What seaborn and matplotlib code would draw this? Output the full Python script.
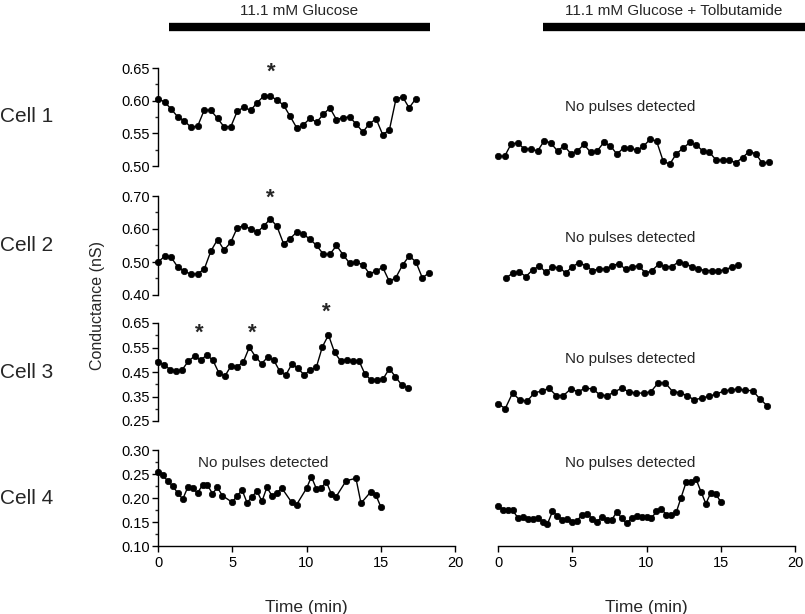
import numpy as np
import pandas as pd
import matplotlib
matplotlib.use("Agg")
import matplotlib.pyplot as plt
from matplotlib.ticker import MultipleLocator, FormatStrFormatter
import seaborn as sns

sns.set_style("ticks")
plt.rcParams["font.family"] = ["Liberation Sans", "DejaVu Sans"]

# ---------------- data ----------------
t_c1_glu = [0, 0.45, 0.89, 1.34, 1.78, 2.23, 2.67, 3.12, 3.56, 4.01, 4.45, 4.9, 5.34, 5.79,
            6.23, 6.68, 7.12, 7.57, 8.01, 8.46, 8.9, 9.35, 9.79, 10.24, 10.68, 11.13, 11.57,
            12.02, 12.46, 12.91, 13.35, 13.8, 14.24, 14.69, 15.13, 15.58, 16.02, 16.47, 16.91, 17.36]
g_c1_glu = [0.603, 0.598, 0.587, 0.575, 0.569, 0.559, 0.561, 0.586, 0.585, 0.573,
            0.560, 0.560, 0.584, 0.590, 0.585, 0.597, 0.607, 0.607, 0.601, 0.593,
            0.576, 0.558, 0.563, 0.573, 0.567, 0.579, 0.589, 0.571, 0.574, 0.575,
            0.564, 0.552, 0.565, 0.572, 0.548, 0.555, 0.602, 0.606, 0.589, 0.603]

t_c2_glu = t_c1_glu + [17.8, 18.25]
g_c2_glu = [0.499, 0.518, 0.514, 0.484, 0.472, 0.463, 0.464, 0.479, 0.533, 0.568,
            0.536, 0.560, 0.604, 0.610, 0.600, 0.590, 0.609, 0.631, 0.608, 0.555,
            0.571, 0.591, 0.584, 0.569, 0.550, 0.524, 0.523, 0.550, 0.522, 0.496,
            0.499, 0.492, 0.464, 0.473, 0.484, 0.441, 0.453, 0.491, 0.518, 0.501,
            0.452, 0.467]

t_c3_glu = [0, 0.41, 0.82, 1.23, 1.64, 2.05, 2.46, 2.87, 3.28, 3.69, 4.1, 4.51, 4.92, 5.33,
            5.74, 6.15, 6.56, 6.97, 7.38, 7.79, 8.2, 8.61, 9.02, 9.43, 9.84, 10.25, 10.66,
            11.07, 11.48, 11.89, 12.3, 12.71, 13.12, 13.53, 13.94, 14.35, 14.76, 15.17,
            15.58, 15.99, 16.4, 16.81]
g_c3_glu = [0.492, 0.479, 0.460, 0.453, 0.460, 0.495, 0.514, 0.498, 0.519, 0.499,
            0.446, 0.434, 0.475, 0.472, 0.490, 0.551, 0.513, 0.484, 0.510, 0.499,
            0.453, 0.438, 0.483, 0.465, 0.438, 0.458, 0.469, 0.553, 0.601, 0.530,
            0.495, 0.499, 0.496, 0.496, 0.441, 0.417, 0.417, 0.423, 0.464, 0.430,
            0.398, 0.386]

t_c4_glu = [0, 0.33, 0.67, 1.0, 1.33, 1.67, 2.0, 2.33, 2.67, 3.0, 3.33, 3.67, 4.0, 4.33,
            5.0, 5.33, 5.67, 6.0, 6.33, 6.67, 7.0, 7.33, 7.67, 8.0, 8.33, 9.0, 9.33, 10.0,
            10.33, 10.67, 11.0, 11.33, 11.67, 12.0, 12.67, 13.33, 13.67, 14.33, 14.67, 15.0]
g_c4_glu = [0.254, 0.247, 0.235, 0.225, 0.210, 0.198, 0.222, 0.220, 0.211, 0.227,
            0.227, 0.209, 0.222, 0.205, 0.191, 0.205, 0.216, 0.190, 0.203, 0.214,
            0.193, 0.222, 0.205, 0.210, 0.221, 0.191, 0.186, 0.220, 0.244, 0.219,
            0.221, 0.234, 0.209, 0.203, 0.236, 0.241, 0.189, 0.213, 0.206, 0.182]

t_c1_tol = t_c2_glu
g_c1_tol = [0.515, 0.515, 0.534, 0.535, 0.526, 0.526, 0.523, 0.539, 0.535, 0.523,
            0.531, 0.519, 0.523, 0.533, 0.521, 0.523, 0.536, 0.531, 0.518, 0.528,
            0.528, 0.524, 0.530, 0.541, 0.538, 0.507, 0.503, 0.519, 0.527, 0.536,
            0.532, 0.523, 0.521, 0.509, 0.509, 0.509, 0.505, 0.513, 0.522, 0.519,
            0.504, 0.506]

t_c2_tol = [0.54, 0.99, 1.43, 1.88, 2.33, 2.78, 3.22, 3.67, 4.12, 4.56, 5.01, 5.46, 5.9,
            6.35, 6.8, 7.25, 7.69, 8.14, 8.59, 9.03, 9.48, 9.93, 10.37, 10.82, 11.27, 11.72,
            12.16, 12.61, 13.06, 13.5, 13.95, 14.4, 14.84, 15.29, 15.74, 16.19]
g_c2_tol = [0.452, 0.466, 0.470, 0.456, 0.476, 0.488, 0.469, 0.484, 0.483, 0.467,
            0.486, 0.498, 0.489, 0.474, 0.479, 0.479, 0.489, 0.495, 0.478, 0.485,
            0.489, 0.466, 0.474, 0.493, 0.486, 0.486, 0.501, 0.495, 0.486, 0.479,
            0.474, 0.474, 0.474, 0.476, 0.485, 0.491]

t_c3_tol = [0, 0.49, 0.98, 1.47, 1.96, 2.45, 2.94, 3.43, 3.92, 4.41, 4.9, 5.39, 5.88, 6.37,
            6.86, 7.35, 7.84, 8.33, 8.82, 9.31, 9.8, 10.29, 10.78, 11.27, 11.76, 12.25,
            12.74, 13.23, 13.72, 14.21, 14.7, 15.19, 15.68, 16.17, 16.66, 17.15, 17.64, 18.13]
g_c3_tol = [0.320, 0.301, 0.364, 0.336, 0.331, 0.365, 0.372, 0.384, 0.354, 0.354,
            0.381, 0.370, 0.384, 0.381, 0.357, 0.353, 0.369, 0.384, 0.369, 0.364,
            0.364, 0.369, 0.405, 0.405, 0.370, 0.366, 0.353, 0.336, 0.344, 0.351,
            0.360, 0.372, 0.377, 0.380, 0.375, 0.374, 0.340, 0.312]

t_c4_tol = [0, 0.33, 0.67, 1.0, 1.33, 1.67, 2.0, 2.33, 2.67, 3.0, 3.33, 3.67, 4.0, 4.33,
            4.67, 5.0, 5.33, 5.67, 6.0, 6.33, 6.67, 7.0, 7.33, 7.67, 8.0, 8.33, 8.67, 9.0,
            9.33, 9.67, 10.0, 10.33, 10.67, 11.0, 11.33, 11.67, 12.0, 12.33, 12.67, 13.0,
            13.33, 13.67, 14.0, 14.33, 14.67, 15.0]
g_c4_tol = [0.184, 0.175, 0.176, 0.174, 0.159, 0.160, 0.156, 0.156, 0.158, 0.151,
            0.146, 0.172, 0.163, 0.155, 0.157, 0.151, 0.153, 0.165, 0.167, 0.157,
            0.151, 0.160, 0.155, 0.155, 0.171, 0.158, 0.147, 0.158, 0.163, 0.161,
            0.161, 0.158, 0.172, 0.178, 0.165, 0.165, 0.170, 0.201, 0.233, 0.233,
            0.240, 0.213, 0.188, 0.211, 0.208, 0.192]

cell_labels = ["Cell 1", "Cell 2", "Cell 3", "Cell 4"]
condition_labels = ["11.1 mM Glucose", "11.1 mM Glucose + Tolbutamide"]
y_limits = [(0.50, 0.65), (0.40, 0.70), (0.25, 0.65), (0.10, 0.30)]
y_ticks = [[0.50, 0.55, 0.60, 0.65],
           [0.40, 0.50, 0.60, 0.70],
           [0.25, 0.35, 0.45, 0.55, 0.65],
           [0.10, 0.15, 0.20, 0.25, 0.30]]
y_minor = [0.025, 0.05, 0.05, 0.025]
x_ticks = [0, 5, 10, 15, 20]
no_pulse_text = "No pulses detected"

# star annotations (time, conductance) per left panel
stars = [[(7.6, 0.643)], [(7.55, 0.692)], [(2.78, 0.608), (6.33, 0.608), (11.36, 0.694)], []]
# "No pulses detected" positions (panel row, column, time, conductance)
no_pulse = [(0, 1, 8.9, 0.590), (1, 1, 8.9, 0.574), (2, 1, 8.9, 0.504),
            (3, 0, 7.1, 0.272), (3, 1, 8.9, 0.272)]

series = [[(t_c1_glu, g_c1_glu), (t_c1_tol, g_c1_tol)],
          [(t_c2_glu, g_c2_glu), (t_c2_tol, g_c2_tol)],
          [(t_c3_glu, g_c3_glu), (t_c3_tol, g_c3_tol)],
          [(t_c4_glu, g_c4_glu), (t_c4_tol, g_c4_tol)]]

# ---------------- layout ----------------
W, H = 805, 614
fig = plt.figure(figsize=(W / 100, H / 100), dpi=100)
col_x = [158, 498]
col_w = 297
row_y = [(68, 166), (196, 295), (323, 421), (450, 546)]

axes = [[None, None] for _ in range(4)]
for r in range(4):
    for c in range(2):
        top, bot = row_y[r]
        ax = fig.add_axes([col_x[c] / W, 1 - bot / H, col_w / W, (bot - top) / H])
        axes[r][c] = ax
        t, g = series[r][c]
        df = pd.DataFrame({"Time (min)": t, "Conductance (nS)": g})
        sns.lineplot(data=df, x="Time (min)", y="Conductance (nS)", ax=ax,
                     color="black", linewidth=1.0, marker="o", markersize=4.6,
                     markeredgecolor="black", markeredgewidth=0.5, sort=False,
                     clip_on=False, zorder=3)
        ax.set_xlim(0, 20)
        ax.set_ylim(*y_limits[r])
        ax.set_ylabel("")
        ax.set_xlabel("")
        for s in ["top", "right"]:
            ax.spines[s].set_visible(False)
        if c == 0:
            ax.set_yticks(y_ticks[r])
            ax.yaxis.set_minor_locator(MultipleLocator(y_minor[r]))
            ax.yaxis.set_major_formatter(FormatStrFormatter("%.2f"))
            ax.tick_params(axis="y", which="major", length=4, width=1,
                           labelsize=10.5, pad=2, colors="black")
            ax.tick_params(axis="y", which="minor", length=2, width=1)
            ax.spines["left"].set_linewidth(1)
            ax.spines["left"].set_color("black")
        else:
            ax.spines["left"].set_visible(False)
            ax.set_yticks([])
        if r == 3:
            ax.set_xticks(x_ticks)
            ax.tick_params(axis="x", length=4, width=1, labelsize=10.5, pad=3,
                           colors="black")
            ax.spines["bottom"].set_linewidth(1)
            ax.spines["bottom"].set_color("black")
            ax.set_xlabel("Time (min)", fontsize=12.5, labelpad=22)
        else:
            ax.spines["bottom"].set_visible(False)
            ax.set_xticks([])
        ax.set_facecolor("none")

for r in range(4):
    for (tx, gy) in stars[r]:
        axes[r][0].text(tx, gy, "*", ha="center", va="center", fontsize=16,
                        fontweight="bold", clip_on=False)

for (r, c, tx, gy) in no_pulse:
    axes[r][c].text(tx, gy, no_pulse_text, ha="center", va="center", fontsize=11)

# cell labels
for r in range(4):
    top, bot = row_y[r]
    fig.text(0.0, 1 - ((top + bot) / 2) / H, cell_labels[r], ha="left", va="center",
             fontsize=15)

fig.text(97 / W, 1 - 305 / H, "Conductance (nS)", rotation=90, ha="center",
         va="center", fontsize=11.5)

# condition bars and labels
bar_spans = [(0.74, 18.3), (3.03, 21.0)]
for c in range(2):
    ax = axes[0][c]
    trans = ax.get_xaxis_transform()
    ax.plot(bar_spans[c], [1.418, 1.418], color="black", linewidth=6,
            solid_capstyle="butt", transform=trans, clip_on=False)
    ax.text(sum(bar_spans[c]) / 2 if c == 0 else 11.8, 1.58, condition_labels[c],
            ha="center", va="center", fontsize=11, transform=trans)

fig.savefig("out.png", dpi=100)
